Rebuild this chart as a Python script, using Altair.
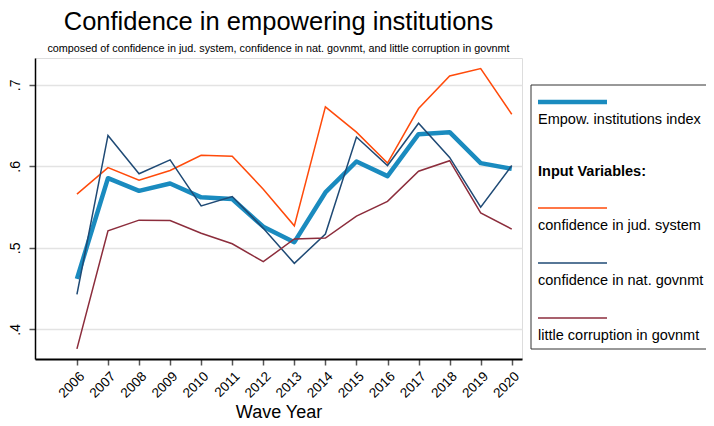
import altair as alt
import pandas as pd

years = list(range(2006, 2021))
index_vals = [0.462, 0.5855, 0.570, 0.579, 0.562, 0.560, 0.526, 0.507, 0.568, 0.606, 0.588, 0.6395, 0.642, 0.604, 0.597]
jud_vals = [0.566, 0.5985, 0.583, 0.595, 0.6135, 0.6125, 0.572, 0.527, 0.673, 0.642, 0.604, 0.671, 0.711, 0.720, 0.664]
nat_vals = [0.443, 0.638, 0.591, 0.608, 0.5515, 0.563, 0.524, 0.481, 0.517, 0.636, 0.601, 0.653, 0.611, 0.550, 0.601]
cor_vals = [0.376, 0.521, 0.534, 0.5335, 0.518, 0.505, 0.483, 0.511, 0.512, 0.539, 0.557, 0.594, 0.607, 0.543, 0.523]

series_names = ["Empow. institutions index", "confidence in jud. system",
                "confidence in nat. govnmt", "little corruption in govnmt"]
series_colors = ["#1a8bbf", "#ff4a0a", "#1f4a75", "#8c2d3c"]
legend_header = "Input Variables:"
y_ticks = [0.4, 0.5, 0.6, 0.7]

FONT = "Liberation Sans"

rows = []
for name, vals in zip(series_names, [index_vals, jud_vals, nat_vals, cor_vals]):
    for yr, v in zip(years, vals):
        rows.append({"year": yr, "value": v, "series": name})
df = pd.DataFrame(rows)

W, H = 487, 301
xscale = alt.Scale(domain=[2004.65, 2020.33], nice=False, zero=False)
yscale = alt.Scale(domain=[0.3636, 0.733], nice=False, zero=False)
cscale = alt.Scale(domain=series_names, range=series_colors)

xaxis = alt.Axis(values=years, format="d", labelAngle=-45, labelAlign="right",
                 labelBaseline="top", labelFontSize=13.5, labelFont=FONT,
                 labelColor="black", labelOverlap=False, labelBound=False, labelFlush=False,
                 tickSize=6, tickColor="#555", tickCount=15,
                 tickWidth=1.5, domain=True, domainColor="black", domainWidth=2, grid=False,
                 title="Wave Year", titleFontSize=18, titleFontWeight="normal",
                 titleFont=FONT, titleColor="black", titlePadding=4, labelPadding=4)
yaxis = alt.Axis(values=y_ticks, labelExpr="replace(format(datum.value, '.1f'), '0.', '.')",
                 labelAngle=270, labelAlign="center", labelBaseline="bottom",
                 labelFontSize=14, labelFont=FONT, labelColor="black",
                 ticks=True, tickSize=6, tickColor="#555", tickWidth=1.5,
                 domain=True, domainColor="black", domainWidth=1.5,
                 grid=True, gridColor="#e3e3e3", gridWidth=1.5, title=None, labelPadding=7)

base = alt.Chart(df)
idx_line = base.transform_filter(alt.datum.series == series_names[0]).mark_line(
    strokeWidth=4.5, strokeJoin="round").encode(
    x=alt.X("year:Q", scale=xscale, axis=xaxis),
    y=alt.Y("value:Q", scale=yscale, axis=yaxis),
    color=alt.Color("series:N", scale=cscale, legend=None),
)
inp_lines = base.transform_filter(alt.datum.series != series_names[0]).mark_line(
    strokeWidth=1.5).encode(
    x=alt.X("year:Q", scale=xscale, axis=xaxis),
    y=alt.Y("value:Q", scale=yscale, axis=yaxis),
    color=alt.Color("series:N", scale=cscale, legend=None),
    detail="series:N",
)

# legend (drawn manually to mimic the Stata layout)
one = pd.DataFrame({"k": [0]})
LX = 503
layers = [
    alt.Chart(one).mark_rect(fill="white", stroke="#333", strokeWidth=1).encode(
        x=alt.value(496), x2=alt.value(720), y=alt.value(27), y2=alt.value(291)),
]
entries = [
    (series_names[0], series_colors[0], 4.5, 44, 66),
    (series_names[1], series_colors[1], 1.5, 150, 172),
    (series_names[2], series_colors[2], 1.5, 205, 227),
    (series_names[3], series_colors[3], 1.5, 260, 282),
]
for label, col, sw, ly, ty in entries:
    layers.append(alt.Chart(one).mark_rule(color=col, strokeWidth=sw).encode(
        x=alt.value(LX), x2=alt.value(LX + 69), y=alt.value(ly)))
    layers.append(alt.Chart(one).mark_text(align="left", baseline="alphabetic",
                                           fontSize=14.5, font=FONT, color="black").encode(
        x=alt.value(LX), y=alt.value(ty), text=alt.value(label)))
layers.append(alt.Chart(one).mark_text(align="left", baseline="alphabetic", fontSize=14.5,
                                       font=FONT, fontWeight="bold", color="black").encode(
    x=alt.value(LX), y=alt.value(118), text=alt.value(legend_header)))

chart = alt.layer(idx_line, inp_lines, *layers).properties(
    width=W, height=H,
    title=alt.TitleParams(
        text="Confidence in empowering institutions",
        subtitle="composed of confidence in jud. system, confidence in nat. govnmt, and little corruption in govnmt",
        anchor="middle", frame="group", font=FONT, fontSize=25.5, fontWeight="normal",
        color="black", subtitleFont=FONT, subtitleFontSize=10.8, subtitleColor="black",
        subtitlePadding=8, offset=4),
    padding={"left": 27, "top": 50, "right": 184, "bottom": 66},
    autosize=alt.AutoSizeParams(type="none"),
).configure_view(stroke="black", strokeWidth=1.5).configure(background="white")

chart.save("out.html", embed_options={"renderer": "svg", "actions": False})
